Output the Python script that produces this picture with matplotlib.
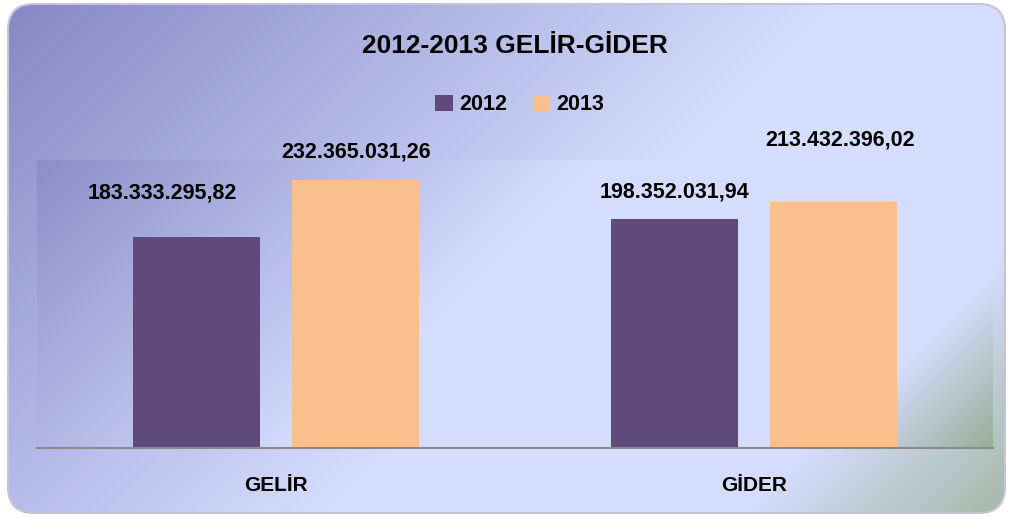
import numpy as np
import matplotlib.pyplot as plt
from matplotlib.colors import LinearSegmentedColormap
from matplotlib.patches import FancyBboxPatch

categories = ["GELİR", "GİDER"]
series = ["2012", "2013"]
values_2012 = [183333295.82, 198352031.94]
values_2013 = [232365031.26, 213432396.02]
labels_2012 = ["183.333.295,82", "198.352.031,94"]
labels_2013 = ["232.365.031,26", "213.432.396,02"]

W, H = 1011, 518
fig = plt.figure(figsize=(W / 100, H / 100), dpi=100)
plt.rcParams['font.family'] = ['Liberation Sans', 'DejaVu Sans']

# fondo con degradado y bordes redondeados
bg = fig.add_axes([0, 0, 1, 1], zorder=0)
bg.set_xlim(0, W)
bg.set_ylim(H, 0)
bg.axis("off")
cmap_fig = LinearSegmentedColormap.from_list(
    "fig", [(0, "#8587c4"), (0.55, "#d5deff"), (0.82, "#d5deff"), (1, "#a3b6a2")])
xx, yy = np.meshgrid(np.arange(W), np.arange(H))
grad = (xx + yy) / (W + H)
im = bg.imshow(grad, cmap=cmap_fig, extent=(0, W, H, 0), aspect="auto", vmin=0, vmax=1)
box = FancyBboxPatch((8, 4), 997, 509, boxstyle="round,pad=0,rounding_size=26",
                     fc="none", ec="#c9c3da", lw=1.5)
bg.add_patch(box)
im.set_clip_path(box)

# area del grafico
x0, y0, x1, y1 = 37, 160, 993, 448
ax = fig.add_axes([x0 / W, 1 - y1 / H, (x1 - x0) / W, (y1 - y0) / H], zorder=1)
cmap_ax = LinearSegmentedColormap.from_list(
    "ax", [(0, "#8c8ec8"), (0.45, "#d5deff"), (0.86, "#d5deff"), (1, "#98ae96")])
pw, ph = x1 - x0, y1 - y0
px, py = np.meshgrid(np.arange(pw), np.arange(ph))
ax.imshow((px + py) / (pw + ph), cmap=cmap_ax, extent=(-0.5, 1.5, 0, 250e6),
          aspect="auto", vmin=0, vmax=1, zorder=0)
ax.set_xlim(-0.5, 1.5)
ax.set_ylim(0, 250e6)

x = np.arange(len(categories))
w = 0.266
off = 0.1665
b1 = ax.bar(x - off, values_2012, w, color="#5f4a7b", label=series[0], zorder=2)
b2 = ax.bar(x + off, values_2013, w, color="#f9c08e", label=series[1], zorder=2)

# etiquetas de valores (posiciones como en el original)
offs_2012 = [(-34, 44), (0, 27)]
offs_2013 = [(0, 28), (6, 62)]
for bars, labs, offs in [(b1, labels_2012, offs_2012), (b2, labels_2013, offs_2013)]:
    for r, lab, (dx, dy) in zip(bars, labs, offs):
        ax.annotate(lab, (r.get_x() + r.get_width() / 2, r.get_height()),
                    xytext=(dx, dy), textcoords="offset pixels",
                    ha="center", va="center", fontsize=15.5, fontweight="bold",
                    annotation_clip=False)

for s in ["top", "right", "left"]:
    ax.spines[s].set_visible(False)
ax.spines["bottom"].set_color("#8a8a8a")
ax.spines["bottom"].set_linewidth(1.5)
ax.set_yticks([])
ax.set_xticks(x)
ax.set_xticklabels(categories, fontsize=15, fontweight="bold")
ax.tick_params(axis="x", length=0, pad=20)

fig.text(515 / W, 1 - 46 / H, "2012-2013 GELİR-GİDER", ha="center", va="center",
         fontsize=19, fontweight="bold")
fig.legend(handles=[b1, b2], loc="center", bbox_to_anchor=(520 / W, 1 - 105 / H),
           ncol=2, frameon=False, prop={"size": 15.5, "weight": "bold"},
           handlelength=0.8, handleheight=0.8, handletextpad=0.3, columnspacing=1.2)

fig.savefig("out.png", dpi=100)
